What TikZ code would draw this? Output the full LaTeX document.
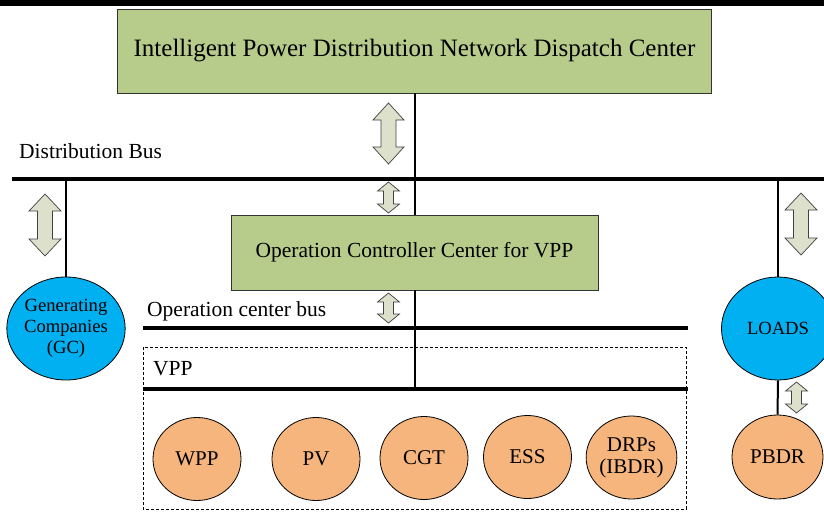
\documentclass[tikz,border=0pt]{standalone}
\usepackage{fontspec}
\setmainfont{LiberationSerif}[Extension=.ttf, UprightFont=*-Regular, BoldFont=*-Bold, ItalicFont=*-Italic, BoldItalicFont=*-BoldItalic]
\usetikzlibrary{shapes.geometric}
\definecolor{boxgreen}{RGB}{183,203,139}
\definecolor{gcblue}{RGB}{0,176,240}
\definecolor{derorange}{RGB}{246,181,125}
\definecolor{arrfill}{RGB}{221,225,204}
\tikzset{
  greenbox/.style={draw=black!80, line width=0.8pt, fill=boxgreen, inner sep=0pt},
  blueell/.style={ellipse, draw=black, line width=0.8pt, fill=gcblue, inner sep=0pt, align=center,
    font=\fontsize{18.6}{21}\selectfont},
  orangeell/.style={ellipse, draw=black, line width=0.8pt, fill=derorange, inner sep=0pt, align=center,
    minimum width=88pt, minimum height=83pt, font=\fontsize{21}{22}\selectfont},
  busline/.style={line width=3.8pt},
  conn/.style={line width=2pt},
  arrowshape/.style={draw=black!75, line width=0.7pt, fill=arrfill, line join=miter},
  lbl/.style={anchor=base west, inner sep=0pt, font=\fontsize{21.5}{24}\selectfont},
  pics/dblarrow/.style args={#1/#2/#3/#4}{code={
    \path[arrowshape] (0,-#1) -- (#2,-#1+#3) -- (#4,-#1+#3) -- (#4,#1-#3) -- (#2,#1-#3)
      -- (0,#1) -- (-#2,#1-#3) -- (-#4,#1-#3) -- (-#4,-#1+#3) -- (-#2,-#1+#3) -- cycle;
  }}
}
\begin{document}
\begin{tikzpicture}[x=1pt,y=-1pt]
\useasboundingbox (0,0) rectangle (824,511);
\clip (0,0) rectangle (824,511);
\fill[white] (0,0) rectangle (824,511);
% top bar
\fill[black] (0,0) rectangle (824,6);

% boxes
\node[greenbox, minimum width=594pt, minimum height=84pt, font=\fontsize{25}{28}\selectfont]
  (top) at (414.5,51) {Intelligent Power Distribution Network Dispatch Center};
\node[greenbox, minimum width=367pt, minimum height=75pt, font=\fontsize{21.5}{24}\selectfont]
  (occ) at (414.5,252.5) {Operation Controller Center for VPP};

% VPP dashed frame
\draw[line width=0.7pt, dash pattern=on 3pt off 2pt] (143,347) rectangle (686,509);

% ellipses
\node[blueell, minimum width=113pt, minimum height=103pt] (gc) at (66,328.5) {Generating\\Companies\\(GC)};
\node[blueell, minimum width=113pt, minimum height=103pt] (loads) at (778,328.5) {LOADS};
\node[orangeell] (wpp) at (197,459) {WPP};
\node[orangeell] (pv) at (316,459) {PV};
\node[orangeell] (cgt) at (424,458) {CGT};
\node[orangeell] (ess) at (527.5,457) {ESS};
\node[orangeell, font=\fontsize{21}{22}\selectfont] (drps) at (631.5,457.5) {DRPs\\(IBDR)};
\node[orangeell, minimum width=91pt, minimum height=84pt] (pbdr) at (777.5,457) {PBDR};

% bus coordinates
\coordinate (dbw) at (12,179);
\coordinate (dbe) at (824,179);
\coordinate (ocbw) at (143,328);
\coordinate (ocbe) at (688,328);
\coordinate (vbw) at (143,389);
\coordinate (vbe) at (688,389);

% buses
\draw[busline] (dbw) -- (dbe);
\draw[busline] (ocbw) -- (ocbe);
\draw[busline] (vbw) -- (vbe);

% connectors
\draw[conn] (top.south) -- (occ.north);
\draw[conn] (occ.south) -- (occ.south |- vbw);
\draw[conn] (gc.north) -- (gc.north |- dbw);
\draw[conn] (loads.north) -- (loads.north |- dbw);
\draw[conn] (loads.south) -- (pbdr.north);

% labels
\node[lbl] (dblbl) at (19,158) {Distribution Bus};
\node[lbl] (ocblbl) at (147,316) {Operation center bus};
\node[lbl] (vpplbl) at (153,375) {VPP};

% double arrows
\pic (a1) at (388.5,133.5) {dblarrow=30.5/15.5/17/7.5};
\pic (a2) at (388.5,197.5) {dblarrow=15.5/11/9/5};
\pic (a3) at (45,225) {dblarrow=31/16/17/7.5};
\pic (a4) at (388.5,308) {dblarrow=15/11/9/5};
\pic (a5) at (801,224) {dblarrow=31/16/17/7.5};
\pic (a6) at (796.5,397.5) {dblarrow=15.5/11/9/5};
\end{tikzpicture}
\end{document}
